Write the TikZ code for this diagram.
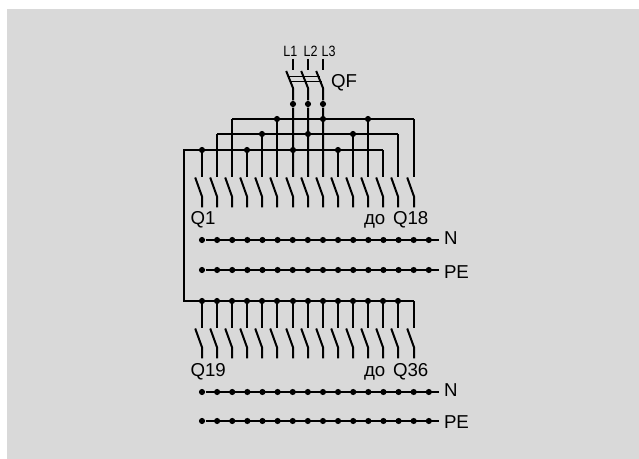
\documentclass[tikz,border=0pt]{standalone}
\usepackage{fontspec}
\setmainfont{Liberation Sans}
\definecolor{panelgrey}{RGB}{217,217,217}
\tikzset{every picture/.style={line width=0.75pt}}
\tikzset{
  wire/.style={draw=black,line width=1.5pt},
  link/.style={draw=black,line width=0.95pt},
  junction/.style={circle,fill=black,draw=none,inner sep=0pt,minimum size=4.6pt},
  tag/.style={inner sep=0pt,anchor=base west,font=\fontsize{14}{14}\selectfont},
  phase/.style={inner sep=0pt,anchor=base,xscale=0.84,font=\fontsize{11.2}{11.2}\selectfont}
}
\begin{document}
\begin{tikzpicture}[x=0.75pt,y=0.75pt,yscale=-1,xscale=1]
\useasboundingbox (0,0) rectangle (639,459);
\fill [panelgrey] (7,9) rectangle (639,459);

% QF
\node [phase] (L1) at (290.3,56.7) {L1};
\node [phase] (L2) at (310.7,56.7) {L2};
\node [phase] (L3) at (328.7,56.7) {L3};
\foreach \n/\x in {1/293,2/308,3/323} {
  \coordinate (top\n) at (\x,59);
  \coordinate (gap\n) at (\x,70);
  \coordinate (blade\n) at (\x-6.8,71);
  \coordinate (knee\n) at (\x,88);
  \node [junction] (feed\n) at (\x,104) {};
  \coordinate (feedend\n) at (\x,177);
  \draw [wire] (top\n) -- (gap\n);
  \draw [wire] (blade\n) -- (knee\n) -- (feed\n) -- (feedend\n);
}
\coordinate (linkA) at (288,76.5);
\coordinate (linkB) at (320,76.5);
\coordinate (linkC) at (290,81.5);
\coordinate (linkD) at (321.7,81.5);
\draw [link] (linkA) -- (linkB);
\draw [link] (linkC) -- (linkD);
\node [tag] (QF) at (330.7,87.4) {QF};

% upper buses
\coordinate (riserT) at (184,150);
\coordinate (riserB) at (184,301);
\coordinate (endA) at (383,150);
\coordinate (startB) at (217,134);
\coordinate (endB) at (398,134);
\coordinate (startC) at (232,119);
\coordinate (endC) at (414,119);
\coordinate (endL) at (414,301);
\draw [wire] (endA) -- (riserT) -- (riserB) -- (endL);
\draw [wire] (startB) -- (endB);
\draw [wire] (startC) -- (endC);

% upper poles
\foreach \i/\x/\y/\hasdot in {1/202/150/1,2/217/134/0,3/232/119/0,4/247/150/1,5/262/134/1,6/277/119/1,7/293/150/1,8/308/134/1,9/323/119/1,10/338/150/1,11/353/134/1,12/368/119/1,13/383/150/0,14/398/134/0,15/414/119/0} {
  \coordinate (u\i) at (\x,\y);
  \coordinate (ua\i) at (\x,177);
  \coordinate (ub\i) at (\x-6.8,177.5);
  \coordinate (uc\i) at (\x,196.5);
  \coordinate (ud\i) at (\x,207.3);
  \draw [wire] (u\i) -- (ua\i);
  \draw [wire] (ub\i) -- (uc\i) -- (ud\i);
  \ifnum\hasdot=1 \node [junction] (ju\i) at (u\i) {}; \fi
}

% lower poles
\foreach \i/\x/\hasdot in {1/202/1,2/217/1,3/232/1,4/247/1,5/262/1,6/277/1,7/293/1,8/308/1,9/323/1,10/338/1,11/353/1,12/368/1,13/383/1,14/398/1,15/414/0} {
  \coordinate (l\i) at (\x,301);
  \coordinate (la\i) at (\x,328.3);
  \coordinate (lb\i) at (\x-6.8,328.5);
  \coordinate (lc\i) at (\x,347.3);
  \coordinate (ld\i) at (\x,358.3);
  \draw [wire] (l\i) -- (la\i);
  \draw [wire] (lb\i) -- (lc\i) -- (ld\i);
  \ifnum\hasdot=1 \node [junction] (jl\i) at (l\i) {}; \fi
}

% N and PE rails
\foreach \r/\y/\base/\t in {a/240/244.4/N,b/270/278.3/PE,c/392/396.7/N,d/421/428.3/PE} {
  \node [tag] (tag\r) at (443.5,\base) {\t};
  \coordinate (railend\r) at (439.3,\y);
  \foreach \k in {0,...,15} {
    \node [junction] (rail\r\k) at (202+15.12*\k,\y) {};
  }
  \draw [wire] (rail\r0) -- (railend\r);
}

% labels
\node [tag] (Q1) at (190,224.3) {Q1};
\node [tag] (Q18) at (363.5,224.3) {до\hspace{0.42em}Q18};
\node [tag] (Q19) at (190,376.7) {Q19};
\node [tag] (Q36) at (363.5,376.7) {до\hspace{0.42em}Q36};

\end{tikzpicture}
\end{document}
